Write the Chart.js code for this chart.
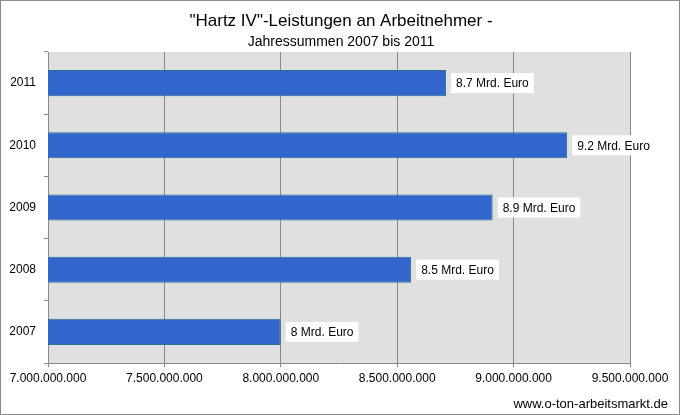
<!DOCTYPE html>
<html><head><meta charset="utf-8">
<script src="https://cdn.jsdelivr.net/npm/chart.js@4"></script>
<style>
html,body{margin:0;padding:0;background:#fff}
#wrap{width:680px;height:415px;position:relative;box-sizing:border-box;border:1px solid #8c8c8c}
</style></head><body>
<div id="wrap"><canvas id="c"></canvas></div>
<script>
const YEARS = ['2011','2010','2009','2008','2007'];
const VALUES = [8.71e9, 9.23e9, 8.91e9, 8.56e9, 8.0e9];
const LABELS = ['8.7 Mrd. Euro','9.2 Mrd. Euro','8.9 Mrd. Euro','8.5 Mrd. Euro','8 Mrd. Euro'];
const TITLE = '"Hartz IV"-Leistungen an Arbeitnehmer -';
const SUBTITLE = 'Jahressummen 2007 bis 2011';
const SOURCE = 'www.o-ton-arbeitsmarkt.de';
const FONT = '"Liberation Sans", Arial, sans-serif';

const fmt = v => Math.round(v).toString().replace(/\B(?=(\d{3})+(?!\d))/g, '.');

const deco = {
  id:'deco',
  beforeDraw(ch) {
    const a = ch.chartArea, c = ch.ctx;
    c.save(); c.fillStyle = '#e0e0e0'; c.fillRect(a.left, a.top, a.right - a.left, a.bottom - a.top); c.restore();
  },
  afterDatasetsDraw(ch) {
    const c = ch.ctx;
    c.save();
    c.font = '12px ' + FONT; c.textBaseline = 'middle';
    ch.getDatasetMeta(0).data.forEach((b, i) => {
      const w = c.measureText(LABELS[i]).width;
      const x = b.x + 5;
      c.fillStyle = '#fff'; c.fillRect(x, b.y - 10, w + 10, 20);
      c.fillStyle = '#000'; c.fillText(LABELS[i], x + 5, b.y + 1);
    });
    c.textAlign = 'center'; c.textBaseline = 'alphabetic';
    c.font = '17px ' + FONT; c.fillText(TITLE, 340, 25);
    c.font = '14px ' + FONT; c.fillText(SUBTITLE, 340, 45);
    c.textAlign = 'right'; c.font = '13px ' + FONT; c.fillText(SOURCE, 667, 407);
    c.restore();
  }
};

new Chart(document.getElementById('c'), {
  type:'bar',
  data:{ labels:YEARS, datasets:[{ data:VALUES, backgroundColor:'#3366cc', borderColor:'#2b6f8f', borderWidth:1, borderSkipped:false, barPercentage:0.42, categoryPercentage:1 }] },
  options:{
    indexAxis:'y', responsive:true, maintainAspectRatio:false, animation:false,
    layout:{ padding:{ top:51, right:49, bottom:21, left:0 } },
    plugins:{ legend:{display:false}, tooltip:{enabled:false} },
    scales:{
      x:{ min:7e9, max:9.5e9, afterFit:s => { s.height = 30; },
        afterBuildTicks:s => { s.ticks = [7e9,7.5e9,8e9,8.5e9,9e9,9.5e9].map(v => ({value:v})); },
        ticks:{ color:'#000', font:{family:FONT, size:12}, callback:v => fmt(v), maxRotation:0, padding:4 },
        grid:{ color:'#888', tickLength:4 }, border:{ color:'#888' } },
      y:{ afterFit:s => { s.width = 47; },
        ticks:{ color:'#000', font:{family:FONT, size:12}, padding:8 },
        grid:{ offset:true, drawOnChartArea:false, color:'#888', tickLength:4 }, border:{ color:'#888' } }
    }
  },
  plugins:[deco]
});
</script>
</body></html>
